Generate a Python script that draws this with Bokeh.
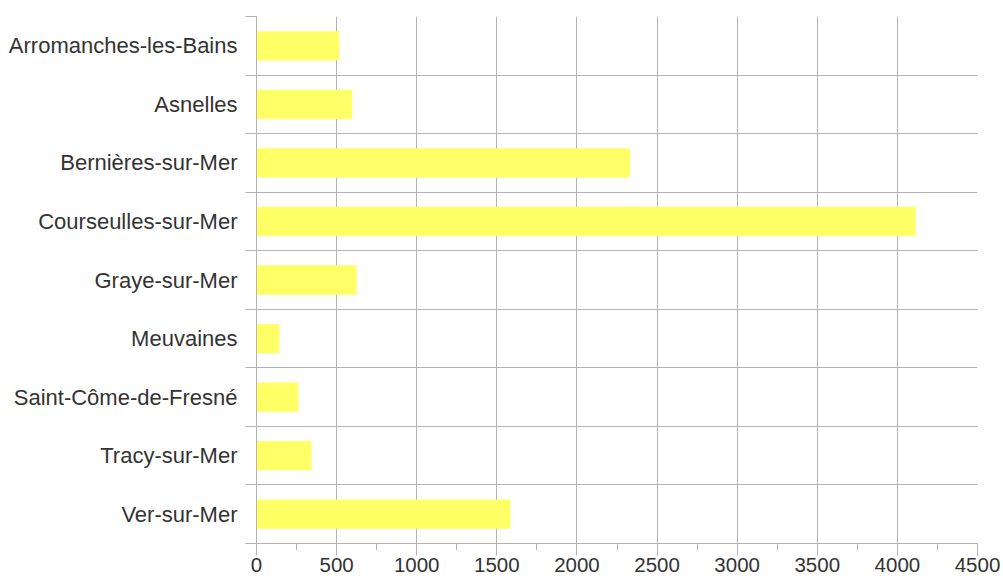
from bokeh.plotting import figure
from bokeh.models import Range1d, FixedTicker, SingleIntervalTicker
from bokeh.embed import file_html
from bokeh.resources import INLINE

# Communes and their population
towns = [
    "Arromanches-les-Bains",
    "Asnelles",
    "Bernières-sur-Mer",
    "Courseulles-sur-Mer",
    "Graye-sur-Mer",
    "Meuvaines",
    "Saint-Côme-de-Fresné",
    "Tracy-sur-Mer",
    "Ver-sur-Mer",
]
population = [517, 598, 2332, 4114, 625, 142, 262, 343, 1585]
x_ticks_step = 500

n = len(towns)
# first town at the top: centre of each band, bands bounded by integers
centers = [n - i - 0.5 for i in range(n)]
bounds = list(range(n + 1))

GRID = "#b3b3b3"
TEXT = "#333333"
FONT = "Liberation Sans"

p = figure(
    frame_width=721,
    frame_height=527,
    x_range=Range1d(0, 4500),
    y_range=Range1d(0, n),
    output_backend="svg",
    toolbar_location=None,
    min_border_left=256,
    min_border_right=26,
    min_border_top=16,
    min_border_bottom=0,
    background_fill_color="white",
    border_fill_color="white",
    outline_line_color=None,
)

p.hbar(y=centers, left=0, right=population, height=0.5,
       fill_color="#ffff66", line_color=None)

# horizontal axis
xticker = SingleIntervalTicker(interval=x_ticks_step, num_minor_ticks=2)
xa = p.xaxis[0]
xa.ticker = xticker
xa.axis_line_color = GRID
xa.major_tick_line_color = GRID
xa.minor_tick_line_color = GRID
xa.major_tick_in = 0
xa.major_tick_out = 12
xa.minor_tick_in = 0
xa.minor_tick_out = 7
xa.major_label_standoff = 2
xa.major_label_text_font = FONT
xa.major_label_text_font_size = "20.5px"
xa.major_label_text_color = TEXT

# vertical axis: labels at band centres, ticks at band edges
ya = p.yaxis[0]
ya.ticker = FixedTicker(ticks=centers, minor_ticks=bounds)
ya.major_label_overrides = {c: t for c, t in zip(centers, towns)}
ya.axis_line_color = GRID
ya.major_tick_line_color = None
ya.major_tick_in = 0
ya.major_tick_out = 0
ya.minor_tick_line_color = GRID
ya.minor_tick_in = 0
ya.minor_tick_out = 11
ya.major_label_standoff = 8
ya.major_label_text_font = FONT
ya.major_label_text_font_size = "22px"
ya.major_label_text_color = TEXT

p.xgrid.ticker = xticker
p.xgrid.grid_line_color = GRID
p.ygrid.ticker = FixedTicker(ticks=bounds)
p.ygrid.grid_line_color = GRID

open("out.html", "w").write(file_html(p, INLINE))
